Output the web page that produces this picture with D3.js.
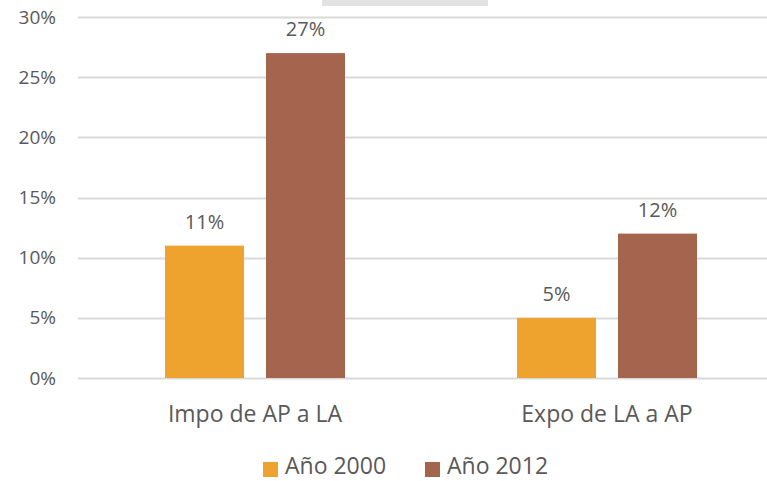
<!DOCTYPE html>
<html>
<head>
<meta charset="utf-8">
<script src="https://cdn.jsdelivr.net/npm/d3@7"></script>
<style>
body { margin: 0; background: #fff; }
text { font-family: "Open Sans", "Noto Sans", sans-serif; fill: #595959; }
</style>
</head>
<body>
<div id="chart"></div>
<script>
var categorias = ["Impo de AP a LA", "Expo de LA a AP"]
var series = ["Año 2000", "Año 2012"]
var valores2000 = [11, 5]
var valores2012 = [27, 12]
var ticks = [0, 5, 10, 15, 20, 25, 30]
var colores = ["#EFA32F", "#A4644E"]

var w = 767, h = 481

var datos = categorias.map(function(c, i) {
    return {cat: c, vals: [valores2000[i], valores2012[i]]}
})

var svg = d3.select("#chart").append("svg")
    .attr("width", w)
    .attr("height", h)

// bout de capture en haut
svg.append("rect")
    .attr("x", 322).attr("y", 0)
    .attr("width", 166).attr("height", 6)
    .attr("fill", "#e2e2e2")

var y = d3.scaleLinear()
    .domain([0, 30])
    .range([378, 17])

var x0 = d3.scaleBand()
    .domain(categorias)
    .range([79, 783])

var x1 = d3.scaleBand()
    .domain(series)
    .range([0, 180])
    .paddingInner(0.218)

var decal = (x0.bandwidth() - 180) / 2

// grille
svg.append("g").selectAll("line")
    .data(ticks)
    .enter().append("line")
    .attr("x1", 78).attr("x2", w)
    .attr("y1", function(d) { return Math.round(y(d)) + 0.5 })
    .attr("y2", function(d) { return Math.round(y(d)) + 0.5 })
    .attr("stroke", "#d9d9d9")
    .attr("stroke-width", 2)

// axe y
svg.append("g").selectAll("text")
    .data(ticks)
    .enter().append("text")
    .attr("x", 56)
    .attr("y", function(d) { return y(d) })
    .attr("dy", "0.35em")
    .attr("text-anchor", "end")
    .attr("font-size", 19)
    .text(function(d) { return d + "%" })

var groupes = svg.append("g").selectAll("g")
    .data(datos)
    .enter().append("g")
    .attr("transform", function(d) { return "translate(" + (x0(d.cat) + decal) + ",0)" })

groupes.selectAll("rect")
    .data(function(d) { return d.vals.map(function(v, i) { return {s: series[i], v: v, i: i} }) })
    .enter().append("rect")
    .attr("x", function(d) { return x1(d.s) })
    .attr("y", function(d) { return y(d.v) })
    .attr("width", x1.bandwidth())
    .attr("height", function(d) { return y(0) - y(d.v) })
    .attr("fill", function(d) { return colores[d.i] })

groupes.selectAll("text")
    .data(function(d) { return d.vals.map(function(v, i) { return {s: series[i], v: v} }) })
    .enter().append("text")
    .attr("x", function(d) { return x1(d.s) + x1.bandwidth() / 2 })
    .attr("y", function(d) { return y(d.v) - 17 })
    .attr("text-anchor", "middle")
    .attr("font-size", 20)
    .text(function(d) { return d.v + "%" })

// étiquettes des catégories
svg.append("g").selectAll("text")
    .data(categorias)
    .enter().append("text")
    .attr("x", function(d) { return x0(d) + x0.bandwidth() / 2 })
    .attr("y", 422)
    .attr("text-anchor", "middle")
    .attr("font-size", 23)
    .text(function(d) { return d })

// légende
var leg = svg.append("g")
var legX = [263, 425]
series.forEach(function(s, i) {
    leg.append("rect")
        .attr("x", legX[i]).attr("y", 462)
        .attr("width", 15).attr("height", 15)
        .attr("fill", colores[i])
    leg.append("text")
        .attr("x", legX[i] + 22)
        .attr("y", 474)
        .attr("font-size", 23)
        .text(s)
})
</script>
</body>
</html>
